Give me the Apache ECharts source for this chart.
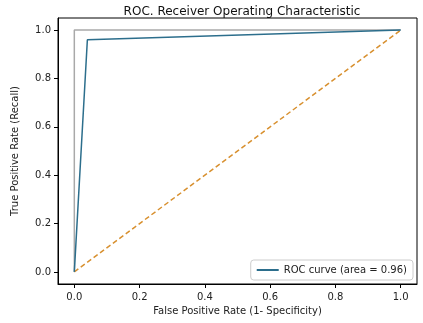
<!DOCTYPE html>
<html><head><meta charset="utf-8">
<script src="https://cdn.jsdelivr.net/npm/echarts@6/dist/echarts.min.js"></script>
<style>html,body{margin:0;padding:0;background:#fff}#c{width:423px;height:323px}</style>
</head><body><div id="c"></div>
<script>
const rocX = [0, 0.04, 1];
const rocY = [0, 0.96, 1];
const perfectX = [0, 0, 1];
const perfectY = [0, 1, 1];
const diagX = [0, 1];
const diagY = [0, 1];
const tickValues = [0, 0.2, 0.4, 0.6, 0.8, 1.0];
const titleText = 'ROC. Receiver Operating Characteristic';
const xName = 'False Positive Rate (1- Specificity)';
const yName = 'True Positive Rate (Recall)';
const legendName = 'ROC curve (area = 0.96)';

const pairs = (xs, ys) => xs.map((x, i) => [x, ys[i]]);
const font = 'DejaVu Sans';
const chart = echarts.init(document.getElementById('c'), null, {renderer: 'canvas'});
const axisCommon = {
  min: -0.05, max: 1.05,
  splitLine: {show: false},
  axisLine: {show: true, onZero: false, lineStyle: {color: '#000', width: 1}},
  axisTick: {show: true, customValues: tickValues, length: 4, lineStyle: {color: '#000'}},
  axisLabel: {customValues: tickValues, color: '#222', fontFamily: font, fontSize: 10,
    formatter: v => v.toFixed(1)},
  nameLocation: 'middle',
  nameTextStyle: {color: '#222', fontFamily: font, fontSize: 10}
};
chart.setOption({
  animation: false,
  title: {text: titleText, left: 237, top: 1, textAlign: 'center',
    textStyle: {fontFamily: font, fontSize: 12, fontWeight: 'normal', color: '#111'}},
  grid: {left: 58, right: 6, top: 18, bottom: 39, show: true, borderColor: '#000', borderWidth: 1},
  xAxis: Object.assign({}, axisCommon, {type: 'value', name: xName, nameGap: 21,
    axisLabel: Object.assign({}, axisCommon.axisLabel, {margin: 8})}),
  yAxis: Object.assign({}, axisCommon, {type: 'value', name: yName, nameGap: 38,
    axisLabel: Object.assign({}, axisCommon.axisLabel, {margin: 7})}),
  legend: {
    data: [legendName], right: 10, bottom: 43, orient: 'vertical',
    backgroundColor: '#fff', borderColor: '#ccc', borderWidth: 1, borderRadius: 3,
    padding: [5, 6, 5, 6], itemWidth: 22, itemHeight: 2, itemGap: 4,
    icon: 'rect',
    textStyle: {fontFamily: font, fontSize: 10, color: '#222'}
  },
  series: [
    {name: 'perfect', type: 'line', data: pairs(perfectX, perfectY), symbol: 'none',
      lineStyle: {color: '#a9a9a9', width: 1.5}, z: 2},
    {name: 'diag', type: 'line', data: pairs(diagX, diagY), symbol: 'none',
      lineStyle: {color: '#d8902f', width: 1.5, type: [5, 3]}, z: 3},
    {name: legendName, type: 'line', data: pairs(rocX, rocY), symbol: 'none',
      itemStyle: {color: '#2c6e8c'},
      lineStyle: {color: '#2c6e8c', width: 1.5}, z: 4}
  ]
});
</script></body></html>
